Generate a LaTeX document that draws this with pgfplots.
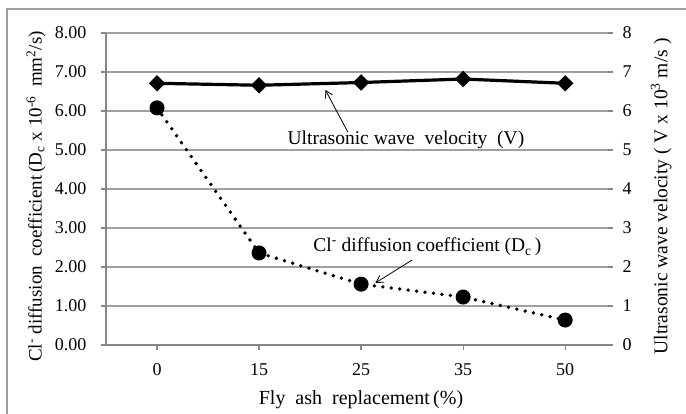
\documentclass[border=0pt]{standalone}
\usepackage{fontspec}
\setmainfont{Liberation Serif}
\usepackage{pgfplots}
\pgfplotsset{compat=1.18}
\usetikzlibrary{arrows.meta}
\definecolor{axisgray}{RGB}{134,134,134}
\definecolor{gridgray}{RGB}{160,160,160}
\begin{document}
\begin{tikzpicture}
\useasboundingbox (-106pt,-69pt) rectangle (580pt,345pt);
\draw[gridgray, line width=1.2pt] (-99pt,-69pt) -- (-99pt,336pt) -- (580pt,336pt);
\begin{axis}[
  width=502pt, height=312pt, scale only axis,
  xmin=-0.5, xmax=4.42, ymin=0, ymax=8,
  xtick={0,1,2,3,4}, xticklabels={0,15,25,35,50},
  ytick={0,1,2,3,4,5,6,7,8},
  axis x line*=bottom, axis y line*=left,
  axis line style={axisgray, line width=1.6pt},
  ymajorgrids, grid style={gridgray, line width=1.2pt},
  tick align=outside, major tick length=5pt,
  tick style={axisgray, line width=1.2pt},
  /pgf/number format/assume math mode=true,
  ticklabel style={font=\fontsize{18}{20}\selectfont},
  yticklabel style={/pgf/number format/.cd, fixed, fixed zerofill, precision=2, /tikz/.cd, xshift=-11pt},
  xticklabel style={yshift=-10pt},
  xlabel={Fly\ \ ash\ \ replacement\,(\%)},
  xlabel style={font=\fontsize{20}{23}\selectfont, at={(axis description cs:0.508,-0.176)}, anchor=center},
  ylabel={Cl\textsuperscript{-} diffusion\ \ coefficient\,(D\textsubscript{c} x 10\textsuperscript{-6}\ \ mm\textsuperscript{2}/s)},
  ylabel style={font=\fontsize{19}{22}\selectfont, at={(axis description cs:-0.139,0.476)}, anchor=center},
]
\addplot[black, line width=3.8pt, dash pattern=on 0pt off 8.5pt, line cap=round,
  mark=*, mark size=7pt, mark options={solid, fill=black, line width=1pt}]
  coordinates {(0,6.08) (1,2.36) (2,1.56) (3,1.23) (4,0.64)};
\node[font=\fontsize{19.5}{23}\selectfont] at (axis cs:2.65,2.51) {Cl\textsuperscript{-} diffusion coefficient\ (D\textsubscript{c}\,)};
\draw[-{Straight Barb[length=7pt,width=8pt]}, line width=0.8pt] (axis cs:2.5,2.18) -- (axis cs:2.14,1.59);
\end{axis}
\begin{axis}[
  width=502pt, height=312pt, scale only axis,
  xmin=-0.5, xmax=4.42, ymin=0, ymax=8,
  ytick={0,1,2,3,4,5,6,7,8},
  axis x line=none, axis y line*=right,
  y axis line style={draw=none},
  tick align=outside, major tick length=5pt,
  tick style={axisgray, line width=1.2pt},
  /pgf/number format/assume math mode=true,
  ticklabel style={font=\fontsize{18}{20}\selectfont},
  yticklabel style={xshift=6pt},
  ylabel={Ultrasonic wave velocity ( V x 10\textsuperscript{3} m/s )},
  ylabel style={font=\fontsize{19.5}{22}\selectfont, at={(axis description cs:1.106,0.476)}, anchor=center},
]
\addplot[black, line width=3.2pt, mark=square*, mark size=5.3pt, mark options={rotate=45, fill=black, line width=1pt}]
  coordinates {(0,6.71) (1,6.66) (2,6.73) (3,6.82) (4,6.71)};
\node[font=\fontsize{19.5}{23}\selectfont] at (axis cs:2.44,5.26) {Ultrasonic wave\ \ velocity\ \ (V)};
\draw[-{Straight Barb[length=7pt,width=8pt]}, line width=0.8pt] (axis cs:1.87,5.46) -- (axis cs:1.65,6.54);
\end{axis}
\end{tikzpicture}
\end{document}
